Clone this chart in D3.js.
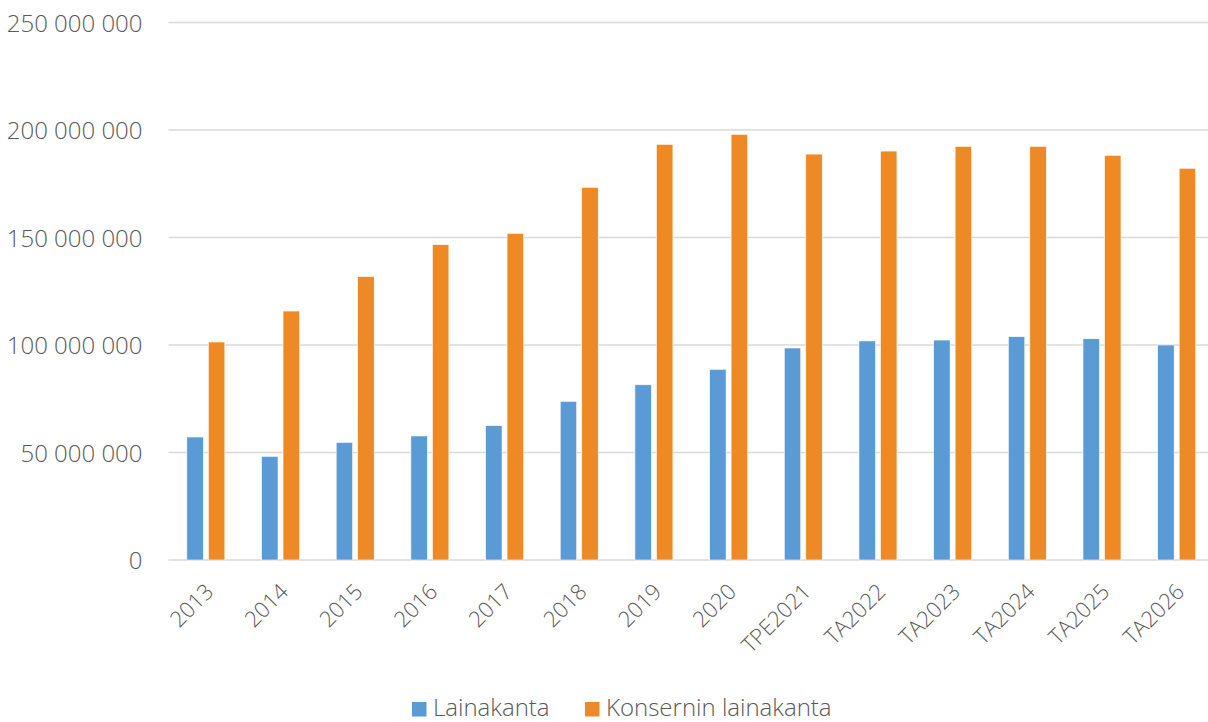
<!DOCTYPE html>
<html>
<head>
<meta charset="utf-8">
<script src="https://cdn.jsdelivr.net/npm/d3@7"></script>
<style>
  body { margin: 0; background: #fff; }
  svg { display: block; font-family: "Open Sans", sans-serif; }
  .axis { font-family: "Open Sans", sans-serif; }
  .axis text { fill: #595959; font-weight: 300; }
  .axis path, .axis line { display: none; }
  .grid line { stroke: #d9d9d9; stroke-width: 1.5; }
</style>
</head>
<body>
<div class="chart"></div>
<script>
// data
const years = ['2013','2014','2015','2016','2017','2018','2019','2020',
               'TPE2021','TA2022','TA2023','TA2024','TA2025','TA2026'];
const lainakanta = [57.2e6, 48.2e6, 54.7e6, 57.7e6, 62.5e6, 73.8e6, 81.5e6, 88.7e6,
                    98.6e6, 101.9e6, 102.3e6, 103.9e6, 102.9e6, 100.0e6];
const konserni = [101.4e6, 115.8e6, 131.8e6, 146.7e6, 151.9e6, 173.3e6, 193.3e6, 198.0e6,
                  188.8e6, 190.2e6, 192.4e6, 192.4e6, 188.2e6, 182.2e6];
const seriesNames = ['Lainakanta', 'Konsernin lainakanta'];
const yTicks = [0, 50e6, 100e6, 150e6, 200e6, 250e6];

const colors = ['#5b9bd5', '#ed8a25'];

const width = 1208, height = 722;
const margin = {top: 22.5, right: -6, bottom: 162, left: 168.5};
const chart_width = width - margin.left - margin.right;
const chart_height = height - margin.top - margin.bottom;

const svg = d3.select('.chart').append('svg')
    .attr('width', width).attr('height', height);
const g = svg.append('g').attr('transform', `translate(${margin.left},${margin.top})`);

const xScale = d3.scaleBand().domain(years).range([0, chart_width]).padding(0);
const xSub = d3.scaleBand().domain(seriesNames).range([-19, 19]).paddingInner(0.233);
const yScale = d3.scaleLinear().domain([0, 250e6]).range([chart_height, 0]);

const fmt = d => d3.format(',')(d).replace(/,/g, ' ');

// gridlines
g.append('g').attr('class', 'grid')
  .selectAll('line').data(yTicks).enter().append('line')
  .attr('x1', 0).attr('x2', chart_width)
  .attr('y1', d => yScale(d)).attr('y2', d => yScale(d));

// y axis
const yAxisDraw = g.append('g').attr('class', 'y axis')
  .call(d3.axisLeft(yScale).tickValues(yTicks).tickFormat(fmt).tickSize(0).tickPadding(26));
yAxisDraw.attr('font-family', null).attr('font-size', null);
yAxisDraw.selectAll('text').style('font-size', '24px').attr('dy', '0.36em');

// bars
const rows = years.map((y, i) => ({year: y, vals: [lainakanta[i], konserni[i]]}));
const groups = g.selectAll('.cat').data(rows).enter().append('g')
  .attr('class', 'cat')
  .attr('transform', d => `translate(${xScale(d.year) + xScale.bandwidth() / 2},0)`);
groups.selectAll('rect').data(d => d.vals.map((v, k) => ({v, k}))).enter().append('rect')
  .attr('x', d => xSub(seriesNames[d.k]))
  .attr('width', xSub.bandwidth())
  .attr('y', d => yScale(d.v))
  .attr('height', d => chart_height - yScale(d.v))
  .style('fill', d => colors[d.k])
  .style('stroke', '#fff').style('stroke-width', 0.6);

// x axis
const xAxisDraw = g.append('g').attr('class', 'x axis')
  .attr('transform', `translate(0,${chart_height})`)
  .call(d3.axisBottom(xScale).tickSize(0));
xAxisDraw.attr('font-family', null).attr('font-size', null);
xAxisDraw.selectAll('text')
  .style('font-size', '22px')
  .style('text-anchor', 'end')
  .attr('dy', null).attr('y', 0)
  .attr('transform', 'translate(9,33) rotate(-45)');

// legend
const legend = svg.append('g').attr('class', 'legend');
const legendX = [412, 585];
seriesNames.forEach((name, k) => {
  legend.append('rect').attr('x', legendX[k]).attr('y', 702)
    .attr('width', 14.5).attr('height', 14.5).style('fill', colors[k]);
  legend.append('text').attr('x', legendX[k] + 21).attr('y', 716)
    .style('font-size', '24px').style('fill', '#595959').style('font-weight', 300)
    .text(name);
});
</script>
</body>
</html>
